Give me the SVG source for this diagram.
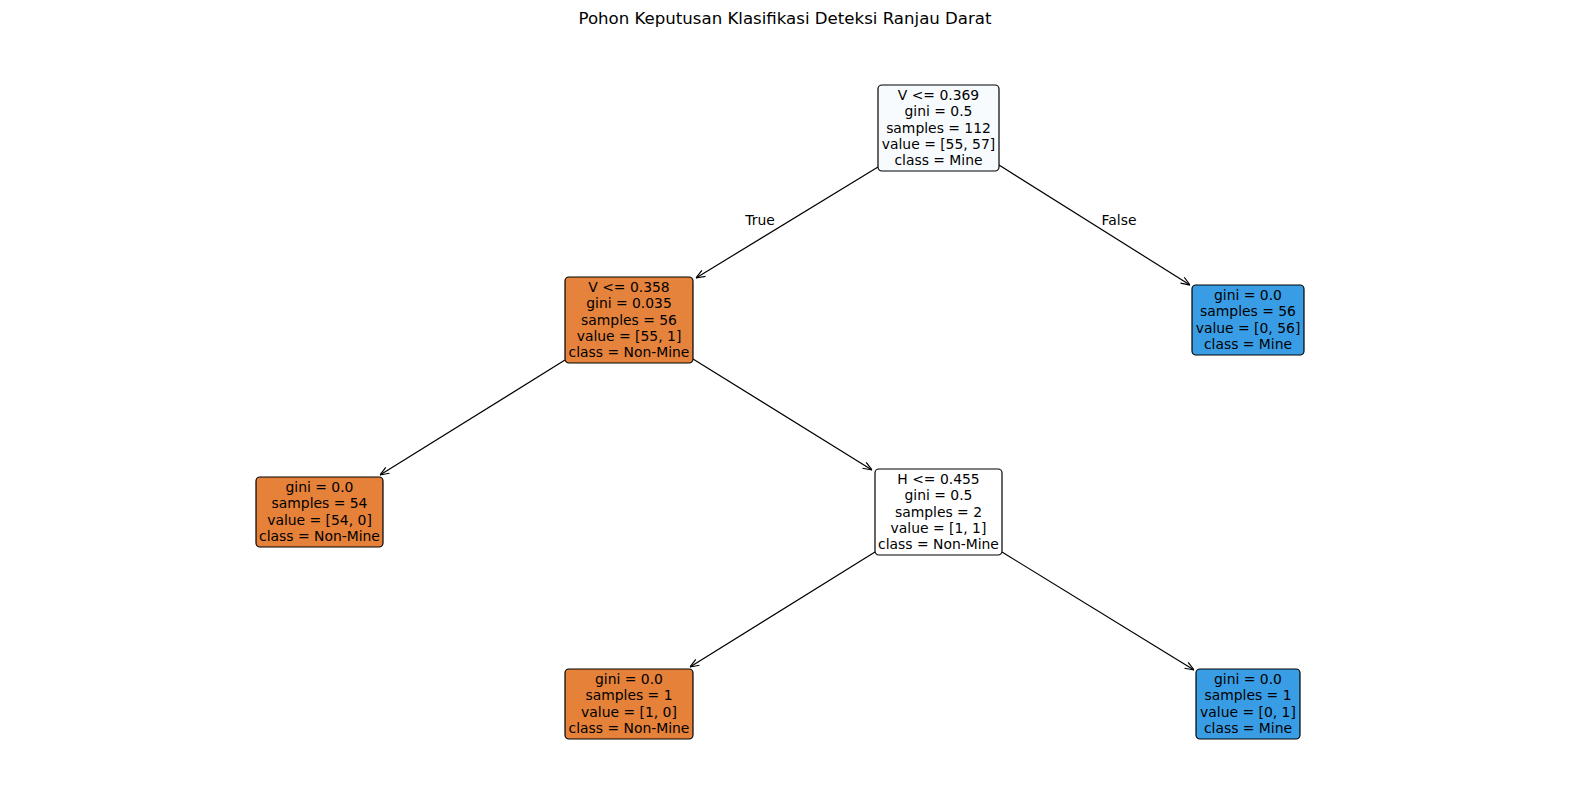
<svg xmlns="http://www.w3.org/2000/svg" width="1570" height="812" viewBox="0 0 1570 812">
<style>
text{font-family:"DejaVu Sans",sans-serif;font-size:13.9px;fill:#000;text-anchor:middle}
.title{font-size:16.6px}
.box{stroke:#000;stroke-width:1.2}
.edge{stroke:#000;stroke-width:1.2;fill:none;marker-end:url(#arr)}
</style>
<defs>
<marker id="arr" viewBox="0 0 10 10" refX="10" refY="5" markerWidth="10" markerHeight="10" markerUnits="userSpaceOnUse" orient="auto">
<path d="M1,1.5 L10,5 L1,8.5" fill="none" stroke="#000" stroke-width="1.2"/>
</marker>
</defs>
<rect width="1570" height="812" fill="#fff"/>
<text class="title" x="785" y="24">Pohon Keputusan Klasifikasi Deteksi Ranjau Darat</text>
<g id="edges">
<line class="edge" x1="878" y1="167" x2="696" y2="278"/>
<line class="edge" x1="999" y1="165" x2="1190" y2="285"/>
<line class="edge" x1="565" y1="360" x2="380" y2="475"/>
<line class="edge" x1="693" y1="359" x2="872" y2="470"/>
<line class="edge" x1="875" y1="552" x2="690" y2="667"/>
<line class="edge" x1="1002" y1="552" x2="1194" y2="670"/>
<text x="760" y="225">True</text>
<text x="1119" y="225">False</text>
</g>
<g id="n0">
<rect class="box" x="878" y="85" width="121" height="86" rx="4" fill="#f8fbfe"/>
<text x="938.5" y="100">V &lt;= 0.369</text>
<text x="938.5" y="116">gini = 0.5</text>
<text x="938.5" y="133">samples = 112</text>
<text x="938.5" y="149">value = [55, 57]</text>
<text x="938.5" y="165">class = Mine</text>
</g>
<g id="n1">
<rect class="box" x="565" y="277" width="128" height="86" rx="4" fill="#e5833c"/>
<text x="629" y="292">V &lt;= 0.358</text>
<text x="629" y="308">gini = 0.035</text>
<text x="629" y="325">samples = 56</text>
<text x="629" y="341">value = [55, 1]</text>
<text x="629" y="357">class = Non-Mine</text>
</g>
<g id="n2">
<rect class="box" x="1192" y="285" width="112" height="70" rx="4" fill="#399de5"/>
<text x="1248" y="300">gini = 0.0</text>
<text x="1248" y="316">samples = 56</text>
<text x="1248" y="333">value = [0, 56]</text>
<text x="1248" y="349">class = Mine</text>
</g>
<g id="n3">
<rect class="box" x="256" y="477" width="127" height="70" rx="4" fill="#e58139"/>
<text x="319.5" y="492">gini = 0.0</text>
<text x="319.5" y="508">samples = 54</text>
<text x="319.5" y="525">value = [54, 0]</text>
<text x="319.5" y="541">class = Non-Mine</text>
</g>
<g id="n4">
<rect class="box" x="875" y="469" width="127" height="86" rx="4" fill="#ffffff"/>
<text x="938.5" y="484">H &lt;= 0.455</text>
<text x="938.5" y="500">gini = 0.5</text>
<text x="938.5" y="517">samples = 2</text>
<text x="938.5" y="533">value = [1, 1]</text>
<text x="938.5" y="549">class = Non-Mine</text>
</g>
<g id="n5">
<rect class="box" x="565" y="669" width="128" height="70" rx="4" fill="#e58139"/>
<text x="629" y="684">gini = 0.0</text>
<text x="629" y="700">samples = 1</text>
<text x="629" y="717">value = [1, 0]</text>
<text x="629" y="733">class = Non-Mine</text>
</g>
<g id="n6">
<rect class="box" x="1196" y="669" width="104" height="70" rx="4" fill="#399de5"/>
<text x="1248" y="684">gini = 0.0</text>
<text x="1248" y="700">samples = 1</text>
<text x="1248" y="717">value = [0, 1]</text>
<text x="1248" y="733">class = Mine</text>
</g>
</svg>
